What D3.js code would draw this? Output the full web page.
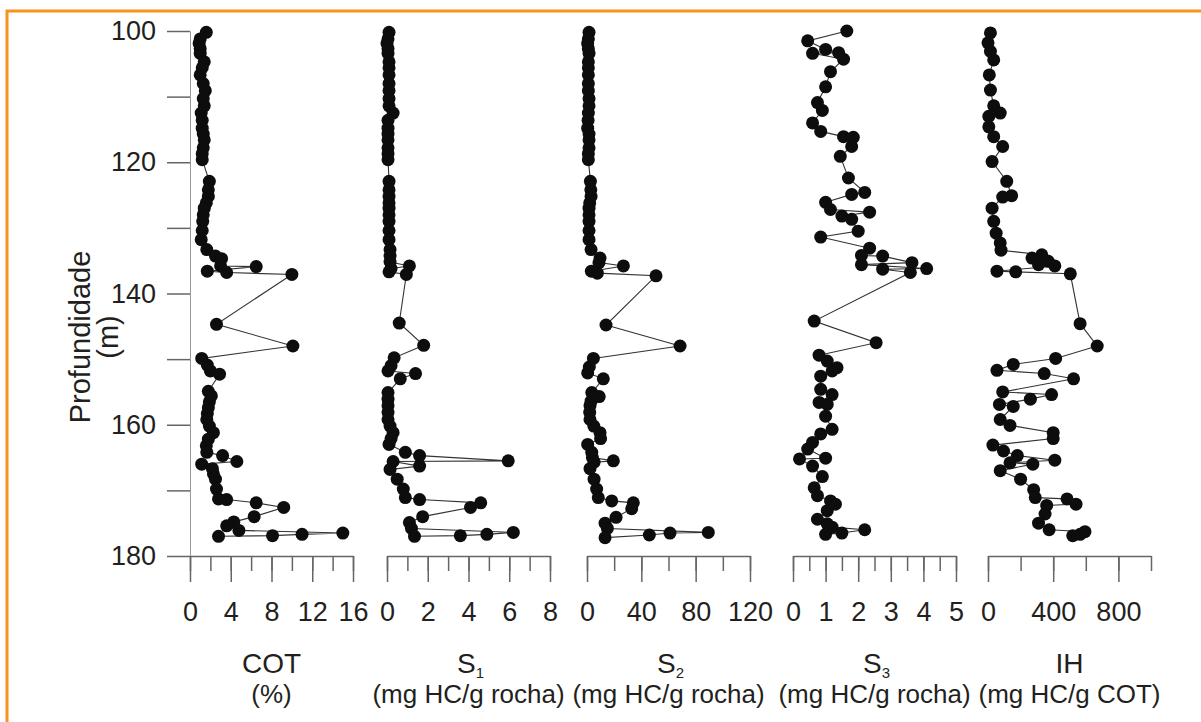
<!DOCTYPE html>
<html>
<head>
<meta charset="utf-8">
<script src="https://cdn.jsdelivr.net/npm/d3@7"></script>
<style>
  body { margin: 0; background: #fff; }
  text { font-family: "Liberation Sans", Arial, sans-serif; fill: #231f20; }
</style>
</head>
<body>
<div id="chart"></div>
<script>
// depth axis (m)
var depthTicks = [100, 110, 120, 130, 140, 150, 160, 170, 180];
var depthLabels = [100, 120, 140, 160, 180];

// panels, left to right
var panelNames = ["COT", "S", "S", "S", "IH"];
var panelSubs = ["", "1", "2", "3", ""];
var panelUnits = ["(%)", "(mg HC/g rocha)", "(mg HC/g rocha)", "(mg HC/g rocha)", "(mg HC/g COT)"];
var panelMax = [16, 8, 120, 5, 1000];
var panelTicks = [
  [0, 2, 4, 6, 8, 10, 12, 14, 16],
  [0, 1, 2, 3, 4, 5, 6, 7, 8],
  [0, 20, 40, 60, 80, 100, 120],
  [0, 0.5, 1, 1.5, 2, 2.5, 3, 3.5, 4, 4.5, 5],
  [0, 200, 400, 600, 800, 1000]
];
var panelLabels = [
  [0, 4, 8, 12, 16],
  [0, 2, 4, 6, 8],
  [0, 40, 80, 120],
  [0, 1, 2, 3, 4, 5],
  [0, 400, 800]
];

// [depth (m), value]
var cotData = [[100.2,1.6],[101.2,1.0],[101.9,0.9],[102.7,1.0],[103.4,1.0],[104.7,1.4],[105.6,1.2],[106.7,1.0],[108.0,1.3],[109.1,1.5],[110.3,1.3],[111.4,1.4],[112.5,1.1],[113.6,1.2],[114.8,1.2],[115.7,1.3],[116.6,1.4],[117.8,1.3],[118.7,1.2],[119.6,1.2],[122.9,1.9],[124.2,1.8],[125.2,1.8],[126.2,1.6],[127.0,1.4],[128.0,1.3],[129.0,1.25],[130.4,1.2],[131.8,1.1],[133.3,1.65],[134.3,2.5],[134.7,3.1],[135.8,3.0],[135.9,6.5],[136.6,1.7],[136.8,3.6],[137.1,10.0],[144.7,2.6],[148.0,10.1],[149.9,1.15],[150.9,1.7],[151.8,2.0],[152.3,2.9],[154.9,1.8],[155.6,2.1],[156.5,1.9],[157.4,1.8],[158.3,1.7],[159.2,1.65],[160.2,1.9],[161.2,2.3],[162.2,1.8],[163.2,1.6],[164.2,1.65],[164.7,3.2],[165.6,4.6],[166.0,1.15],[166.7,2.2],[167.5,2.3],[168.3,2.5],[169.8,2.6],[171.3,2.8],[171.4,3.6],[171.9,6.5],[172.6,9.2],[174.0,6.3],[174.8,4.3],[175.4,3.6],[176.1,4.8],[176.5,15.0],[176.7,11.0],[176.9,8.1],[177.0,2.8]];

var s1Data = [[100.2,0.1],[101.2,0.05],[101.9,0.0],[102.7,0.05],[103.4,0.05],[104.7,0.1],[105.6,0.1],[106.7,0.1],[108.0,0.1],[109.1,0.1],[110.3,0.1],[111.4,0.1],[112.5,0.3],[113.6,0.05],[114.8,0.05],[115.7,0.05],[116.6,0.05],[117.8,0.05],[118.7,0.05],[119.6,0.05],[122.9,0.1],[124.2,0.1],[125.2,0.1],[126.2,0.1],[127.0,0.1],[128.0,0.1],[129.0,0.1],[130.4,0.1],[131.8,0.1],[133.3,0.15],[134.3,0.15],[135.2,0.15],[135.8,1.1],[136.2,0.2],[136.7,0.1],[137.1,0.95],[144.5,0.6],[147.9,1.8],[149.8,0.35],[151.0,0.2],[151.8,0.05],[152.2,1.4],[153.0,0.65],[155.1,0.05],[156.1,0.05],[157.1,0.05],[158.1,0.05],[159.2,0.05],[160.2,0.15],[161.2,0.3],[162.1,0.2],[163.0,0.1],[164.2,0.9],[164.7,1.6],[165.5,5.95],[165.6,0.3],[166.3,1.6],[166.8,0.15],[168.3,0.5],[169.8,0.8],[171.1,0.9],[171.4,1.6],[171.9,4.6],[172.6,4.1],[174.0,1.75],[174.9,1.1],[175.8,1.2],[176.4,6.2],[176.7,4.9],[176.9,3.6],[177.0,1.35]];

var s2Data = [[100.2,1.5],[101.2,1.0],[101.9,0.5],[102.7,1.0],[103.4,1.5],[104.7,1.0],[105.6,1.0],[106.7,1.0],[108.0,1.0],[109.1,1.0],[110.3,1.5],[111.4,1.5],[112.5,1.0],[113.6,0.8],[114.8,0.5],[115.7,1.5],[116.6,1.5],[117.8,1.5],[118.7,1.0],[119.6,1.0],[122.9,2.5],[124.2,2.8],[125.2,3.0],[126.2,2.0],[127.0,1.5],[128.0,1.5],[129.0,1.5],[130.4,1.5],[131.8,1.5],[133.3,3.0],[134.6,9.6],[135.3,8.8],[135.8,26.8],[136.6,3.2],[136.9,7.6],[137.3,50.8],[144.8,14.0],[148.0,68.5],[149.9,4.7],[151.2,1.7],[152.1,0.5],[153.0,12.0],[155.1,3.5],[155.7,9.0],[156.4,3.0],[157.1,2.2],[158.1,2.0],[159.2,2.2],[160.2,5.0],[161.2,9.6],[162.1,10.0],[163.0,0.5],[164.2,3.5],[165.0,4.0],[165.5,19.4],[165.7,5.2],[166.7,2.2],[168.3,5.2],[169.8,7.1],[171.1,8.3],[171.6,18.2],[171.9,34.1],[172.8,32.9],[174.1,21.4],[175.0,13.3],[175.8,15.0],[176.4,89.3],[176.5,61.1],[176.8,45.9],[177.2,13.3]];

var s3Data = [[100.0,1.65],[101.5,0.45],[102.8,1.0],[103.3,1.4],[103.4,0.6],[104.3,1.55],[106.2,1.15],[108.5,1.0],[110.9,0.75],[112.1,0.9],[114.0,0.6],[115.3,0.85],[116.1,1.55],[116.2,1.85],[117.6,1.8],[119.1,1.45],[122.4,1.7],[124.6,2.2],[124.9,1.8],[126.1,1.0],[127.2,1.15],[127.6,2.35],[128.2,1.5],[128.7,1.8],[130.5,2.0],[131.4,0.85],[133.1,2.35],[134.2,2.1],[134.3,2.75],[135.3,3.65],[135.6,2.1],[136.2,4.1],[136.3,2.75],[136.8,3.6],[144.2,0.65],[147.5,2.55],[149.4,0.8],[150.3,1.05],[151.3,1.35],[151.8,1.2],[152.6,0.85],[154.6,0.85],[155.4,1.2],[156.6,0.8],[156.9,1.05],[158.7,1.0],[160.7,1.2],[161.4,0.85],[162.7,0.6],[163.7,0.45],[165.1,1.0],[165.2,0.2],[166.3,0.6],[167.9,0.9],[169.6,0.65],[170.8,0.75],[171.6,1.15],[172.1,1.3],[173.1,1.05],[174.4,0.75],[175.1,1.05],[175.6,1.2],[176.0,2.2],[176.5,1.5],[176.7,1.0]];

var ihData = [[100.3,15],[101.8,0],[103.1,15],[104.4,35],[106.7,8],[109.0,15],[111.4,35],[112.5,75],[113.0,5],[114.6,5],[116.1,35],[117.6,90],[119.9,25],[122.9,115],[125.1,145],[125.3,90],[127.0,25],[129.0,35],[130.8,50],[132.3,75],[133.4,80],[134.1,330],[134.6,270],[135.1,370],[135.6,310],[135.8,410],[136.6,55],[136.7,170],[137.0,505],[144.6,565],[148.0,670],[149.9,415],[150.8,155],[151.7,55],[152.2,345],[153.0,525],[155.0,90],[155.4,390],[156.1,260],[156.9,70],[157.2,155],[159.2,75],[160.1,135],[161.2,400],[162.1,400],[163.1,30],[164.0,95],[164.7,180],[165.4,410],[165.8,135],[166.0,275],[167.0,75],[168.3,200],[169.9,280],[171.1,290],[171.3,485],[172.1,540],[172.3,360],[173.6,350],[175.0,310],[176.0,375],[176.3,595],[176.7,565],[176.9,520]];

var panelData = [cotData, s1Data, s2Data, s3Data, ihData];

var width = 1201, height = 722;
var svg = d3.select('#chart').append('svg')
  .attr('width', width)
  .attr('height', height);

// orange frame (runs off the right and bottom edge)
svg.append('rect')
  .attr('x', 7).attr('y', 11)
  .attr('width', 1400).attr('height', 900)
  .attr('fill', 'none')
  .attr('stroke', '#f7941d')
  .attr('stroke-width', 3);

var plotTop = 31, plotBottom = 556;
var y = d3.scaleLinear().domain([100, 180]).range([plotTop, plotBottom]);

var panelLeft = [190, 387, 587, 793, 988];
var panelW = 163;

// depth axis
var yAxis = svg.append('g')
  .attr('transform', 'translate(190,0)')
  .style('color', '#666')
  .call(d3.axisLeft(y)
    .tickValues(depthTicks)
    .tickSize(23)
    .tickSizeOuter(0)
    .tickPadding(11)
    .tickFormat(function(d) { return depthLabels.indexOf(d) >= 0 ? d : ''; }));
yAxis.selectAll('line').attr('stroke-width', 1.5);
yAxis.select('.domain').attr('stroke-width', 1).attr('stroke', '#999');
yAxis.selectAll('text')
  .attr('font-size', 27)
  .style('font-family', '"Liberation Sans", Arial, sans-serif')
  .style('fill', '#231f20');

svg.append('text')
  .attr('transform', 'translate(90,337) rotate(-90)')
  .attr('text-anchor', 'middle')
  .attr('font-size', 29)
  .text('Profundidade');
svg.append('text')
  .attr('transform', 'translate(118,337) rotate(-90)')
  .attr('text-anchor', 'middle')
  .attr('font-size', 29)
  .text('(m)');

var line = d3.line();

panelData.forEach(function(data, i) {
  var x = d3.scaleLinear().domain([0, panelMax[i]]).range([panelLeft[i], panelLeft[i] + panelW]);
  var g = svg.append('g');

  // minor + major ticks, hanging below the base line
  var minor = g.append('g')
    .attr('transform', 'translate(0,' + plotBottom + ')')
    .style('color', '#666')
    .call(d3.axisBottom(x).tickValues(panelTicks[i]).tickSize(15).tickSizeOuter(0).tickFormat(''));
  minor.selectAll('line').attr('stroke-width', 1.5);
  minor.select('.domain').attr('stroke-width', 1.5);

  var major = g.append('g')
    .attr('transform', 'translate(0,' + plotBottom + ')')
    .style('color', '#666')
    .call(d3.axisBottom(x).tickValues(panelLabels[i]).tickSize(26).tickSizeOuter(0).tickPadding(20)
      .tickFormat(function(d) { return String(d); }));
  major.select('.domain').remove();
  major.selectAll('line').attr('stroke-width', 1.5);
  major.selectAll('text')
    .attr('font-size', 27)
    .style('font-family', '"Liberation Sans", Arial, sans-serif')
    .style('fill', '#231f20');

  var pts = data.slice().sort(function(a, b) { return a[0] - b[0]; });

  g.append('path')
    .datum(pts)
    .attr('d', line.x(function(d) { return x(d[1]); }).y(function(d) { return y(d[0]); }))
    .attr('fill', 'none')
    .attr('stroke', '#333')
    .attr('stroke-width', 1.1);

  g.selectAll('circle')
    .data(pts)
    .enter().append('circle')
    .attr('cx', function(d) { return x(d[1]); })
    .attr('cy', function(d) { return y(d[0]); })
    .attr('r', 6.5)
    .attr('fill', '#0d0d0d');

  // titles
  var cx = panelLeft[i] + panelW / 2;
  var t = g.append('text')
    .attr('x', cx + (panelSubs[i] ? 2 : 0))
    .attr('y', 673)
    .attr('text-anchor', 'middle')
    .attr('font-size', 28)
    .text(panelNames[i]);
  if (panelSubs[i]) {
    t.append('tspan')
      .attr('font-size', 15)
      .attr('dy', 5)
      .text(panelSubs[i]);
  }
  g.append('text')
    .attr('x', cx)
    .attr('y', 703)
    .attr('text-anchor', 'middle')
    .attr('font-size', 26)
    .text(panelUnits[i]);
});
</script>
</body>
</html>
